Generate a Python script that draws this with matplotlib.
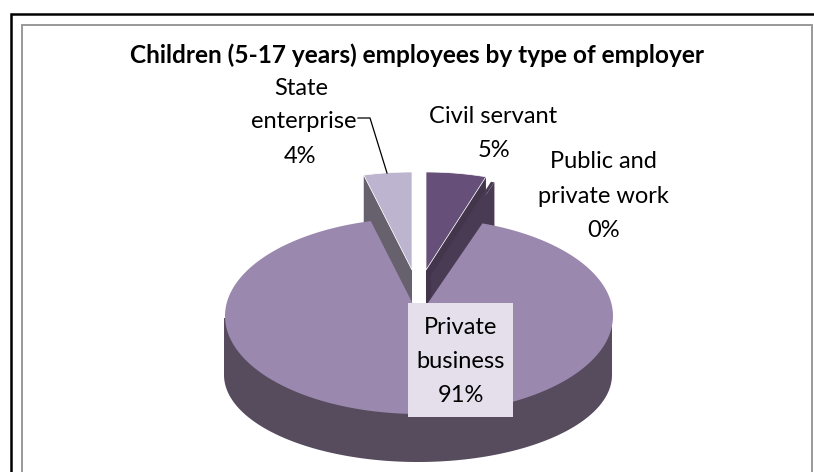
import numpy as np
import matplotlib
matplotlib.use("Agg")
import matplotlib.pyplot as plt

categorias = ["Civil servant", "Public and\nprivate work", "Private\nbusiness", "State\nenterprise"]
valores = [5, 0.3, 90.7, 4]
etiquetas = ["5%", "0%", "91%", "4%"]

plt.rcParams["font.family"] = ["Lato", "DejaVu Sans"]

# pie geometry, in image pixels
RX = 194
RY = 98
CX = 418
CY = 318
# top of each slice: (apex x, apex y), the exploded ones are moved up
apices = [(426, 270), (431, 275), (419, 316), (412, 270)]
colores_cara = ["#664f78", "#4a3b54", "#9a88ae", "#bdb4cf"]
colores_pared = ["#43364c", "#4a3b54", "#564c5e", "#66616d"]
PROF = 48
TAM = 17

fig = plt.figure(figsize=(8.14, 4.72), dpi=100)
ax = fig.add_axes([0, 0, 1, 1])
ax.set_xlim(0, 814)
ax.set_ylim(472, 0)
ax.axis("off")

# frame lines
ax.plot([11, 11, 814], [472, 14, 14], color="black", lw=1.8, solid_joinstyle="miter")
ax.plot([21.5, 21.5, 812, 812], [472, 24.5, 24.5, 472], color="#999999", lw=1.4, solid_joinstyle="miter")

# angles clockwise from the top, from the values
fin = np.cumsum(valores) / sum(valores) * 360
inicio = np.concatenate([[0], fin[:-1]])


def arco(x0, y0, a0, a1, n=80):
    t = np.radians(np.linspace(a0, a1, n))
    return x0 + RX * np.sin(t), y0 - RY * np.cos(t)


# side wall of the big slice
t = np.radians(np.linspace(90, 270, 120))
xp = CX + RX * np.sin(t)
yp = 375 - 87 * np.cos(t)
ax.fill(np.r_[CX + RX, xp, CX - RX], np.r_[CY, yp, CY], color=colores_pared[2], lw=0)

# walls of the pulled out slices
for i in [3, 0, 1]:
    x0, y0 = apices[i]
    borde = inicio[i] if i == 3 else fin[i]
    xr, yr = arco(x0, y0, borde, borde, 1)
    ax.fill([x0, xr[0], xr[0], x0], [y0, yr[0], yr[0] + PROF, y0 + PROF],
            color=colores_pared[i], lw=0)

# top faces
for i in [1, 0, 3, 2]:
    x0, y0 = apices[i]
    xa, ya = arco(x0, y0, inicio[i], fin[i], 240 if i == 2 else 20)
    if i in (0, 3):
        ax.fill(np.r_[x0, xa], np.r_[y0, ya], facecolor=colores_cara[i], edgecolor="white", lw=0.5)
    else:
        ax.fill(np.r_[x0, xa], np.r_[y0, ya], facecolor=colores_cara[i], lw=0)

# leader line of the state enterprise label
ax.plot([358, 370, 387], [118, 118, 173], color="black", lw=0.9)

# texts
ax.text(417, 63, "Children (5-17 years) employees by type of employer", ha="center", va="baseline",
        fontsize=17.6, fontweight="bold", color="black")

lineas = categorias[3].split("\n")
ax.text(301, 95, lineas[0], ha="center", va="baseline", fontsize=TAM, color="black")
ax.text(357, 128, lineas[1], ha="right", va="baseline", fontsize=TAM, color="black")
ax.text(300, 163, etiquetas[3], ha="center", va="baseline", fontsize=TAM, color="black")

ax.text(493, 123, categorias[0], ha="center", va="baseline", fontsize=TAM, color="black")
ax.text(494, 157, etiquetas[0], ha="center", va="baseline", fontsize=TAM, color="black")

lineas = categorias[1].split("\n")
ax.text(603, 168, lineas[0], ha="center", va="baseline", fontsize=TAM, color="black")
ax.text(603, 203, lineas[1], ha="center", va="baseline", fontsize=TAM, color="black")
ax.text(604, 237, etiquetas[1], ha="center", va="baseline", fontsize=TAM, color="black")

# label box of the big slice
ax.fill([408, 513, 513, 408], [303, 303, 417, 417], color="#e5dfec", lw=0)
lineas = categorias[2].split("\n")
ax.text(461, 334, lineas[0], ha="center", va="baseline", fontsize=TAM, color="black")
ax.text(461, 368, lineas[1], ha="center", va="baseline", fontsize=TAM, color="black")
ax.text(461, 402, etiquetas[2], ha="center", va="baseline", fontsize=TAM, color="black")

fig.savefig("out.png", dpi=100)
